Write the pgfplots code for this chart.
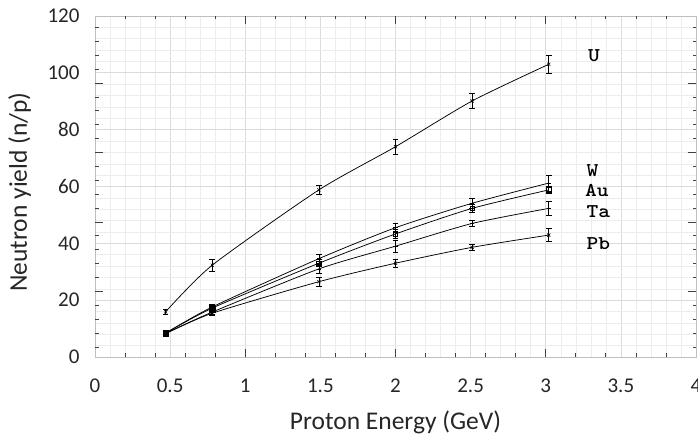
\documentclass[border=0pt]{standalone}
\usepackage{fontspec}
\setmainfont{Carlito}
\usepackage{graphicx}
\usepackage{pgfplots}
\pgfplotsset{compat=1.18}
\newcommand{\el}[1]{\scalebox{1.15}[1]{\fontsize{19.5}{22}\ttfamily\bfseries #1}}
\begin{document}
\begin{tikzpicture}
\pgfplotsset{
  expt/.style={black, line width=0.75pt, smooth, tension=0.4,
    mark size=2.2pt, mark options={solid, line width=0.6pt},
    error bars/y dir=both, error bars/y explicit,
    error bars/error bar style={line width=0.7pt, black},
    error bars/error mark options={rotate=90, line width=0.7pt, mark size=2.8pt, black}},
}
% main axis: grid, labels, data
\begin{axis}[
  scale only axis, width=601pt, height=341pt,
  xmin=0, xmax=4, ymin=0, ymax=120,
  xtick={0,0.5,...,4}, ytick={0,20,...,120},
  xticklabels={0,0.5,1,1.5,2,2.5,3,3.5,4},
  minor x tick num=4, minor y tick num=4,
  grid=both,
  major grid style={gray!28, line width=0.7pt},
  minor grid style={gray!15, line width=0.5pt},
  major tick length=0pt, minor tick length=0pt,
  axis line style={gray!50, line width=0.6pt},
  /pgf/number format/assume math mode=true,
  tick label style={font=\fontsize{21}{24}\selectfont, text=black!85},
  yticklabel style={xshift=-12pt},
  xticklabel style={yshift=-18pt},
  xlabel={Proton Energy (GeV)}, ylabel={Neutron yield (n/p)},
  label style={font=\fontsize{25.5}{28}\selectfont, text=black!85},
  xlabel style={at={(axis description cs:0.5,0)}, anchor=base, yshift=-73pt},
  ylabel style={at={(axis description cs:0,0.484)}, anchor=base, yshift=68pt},
  clip=false,
]
% U
\addplot+[expt, mark=x] coordinates {
 (0.47,15.9) +- (0,1.0)
 (0.78,32.3) +- (0,2.0)
 (1.49,58.8) +- (0,1.7)
 (2.00,74.0) +- (0,2.6)
 (2.51,90.1) +- (0,2.6)
 (3.02,103.0) +- (0,3.3)
};
% W
\addplot+[expt, mark=-] coordinates {
 (0.47,8.4) +- (0,0.6)
 (0.78,17.6) +- (0,1.0)
 (1.49,34.6) +- (0,1.6)
 (2.00,45.5) +- (0,1.5)
 (2.51,54.1) +- (0,1.8)
 (3.02,61.2) +- (0,2.8)
};
% Au
\addplot+[expt, mark=square] coordinates {
 (0.47,8.4) +- (0,0.6)
 (0.78,17.2) +- (0,1.0)
 (1.49,33.0) +- (0,1.2)
 (2.00,43.3) +- (0,1.5)
 (2.51,52.3) +- (0,1.5)
 (3.02,58.8) +- (0,1.2)
};
% Ta
\addplot+[expt, mark=-] coordinates {
 (0.47,8.3) +- (0,0.6)
 (0.78,15.8) +- (0,0.8)
 (1.49,31.0) +- (0,1.6)
 (2.00,39.0) +- (0,2.0)
 (2.51,47.0) +- (0,1.0)
 (3.02,52.3) +- (0,2.3)
};
% Pb
\addplot+[expt, mark=x] coordinates {
 (0.47,8.2) +- (0,0.6)
 (0.78,15.4) +- (0,0.8)
 (1.49,26.5) +- (0,1.6)
 (2.00,33.0) +- (0,1.3)
 (2.51,38.6) +- (0,0.9)
 (3.02,42.9) +- (0,2.2)
};
% overlapping filled markers at the two lowest energies
\addplot[only marks, mark=square*, mark size=2.8pt, black] coordinates {(0.47,8.3) (0.78,16.8)};
\node[anchor=base west, inner sep=0pt] at (axis cs:3.28,103.9) {\el{U}};
\node[anchor=base west, inner sep=0pt] at (axis cs:3.27,63.4) {\el{W}};
\node[anchor=base west, inner sep=0pt] at (axis cs:3.26,56.4) {\el{Au}};
\node[anchor=base west, inner sep=0pt] at (axis cs:3.27,49.2) {\el{Ta}};
\node[anchor=base west, inner sep=0pt] at (axis cs:3.27,37.9) {\el{Pb}};
\end{axis}
% overlay axis: tick marks of the scanned frame
\begin{axis}[
  scale only axis, width=601pt, height=341pt,
  xmin=0, xmax=4, ymin=0, ymax=120,
  axis line style={draw=none},
  xtick={1,2,3}, ytick={23.06,47.51,71.96,96.41},
  minor xtick={0.2,0.4,0.6,0.8,1.2,1.4,1.6,1.8,2.2,2.4,2.6,2.8,3.2,3.4,3.6,3.8},
  minor ytick={3.5,8.39,13.28,18.17,27.95,32.84,37.73,42.62,52.4,57.29,62.18,67.07,76.85,81.74,86.63,91.52,101.3,106.19,111.08,115.97},
  xticklabels={}, yticklabels={},
  tick align=inside, tick pos=both,
  major tick length=8pt, minor tick length=3.5pt,
  every tick/.style={black!75, line width=0.8pt},
]
\end{axis}
\pgfresetboundingbox
\path (-95pt,-81pt) rectangle (603pt,357pt);
\end{tikzpicture}
\end{document}
